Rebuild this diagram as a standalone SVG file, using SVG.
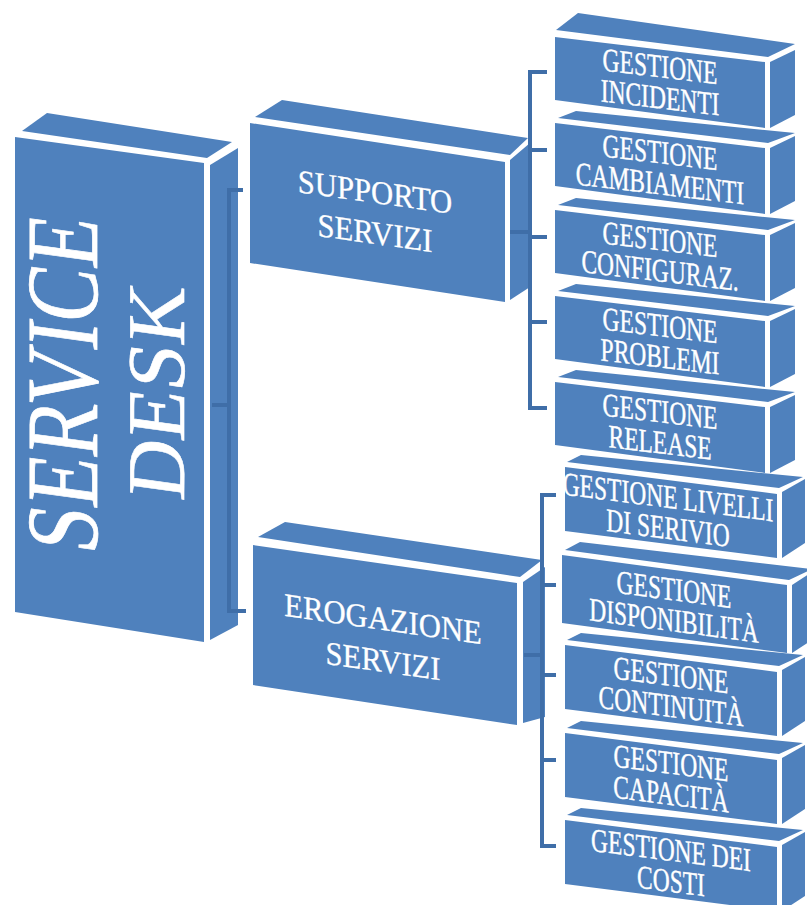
<svg xmlns="http://www.w3.org/2000/svg" width="807" height="905" viewBox="0 0 807 905">
  <style>
    .f { fill: #4f81bd; }
    .c { stroke: #3f6ea8; stroke-width: 4; fill: none; stroke-linecap: butt; stroke-linejoin: miter; }
    .t { fill: #ffffff; stroke: #ffffff; stroke-width: 0.3; font-family: "Liberation Serif", "Times New Roman", serif; text-anchor: middle; }
    .big { font-size: 82px; stroke-width: 0.6; }
    .mid { font-size: 33px; }
    .sm { font-size: 23.5px; }
  </style>
  <rect width="807" height="905" fill="#ffffff"/>

  <!-- root box -->
  <g id="service-desk">
    <polygon class="f" points="22,131 47,113 232,142 207,158"/>
    <polygon class="f" points="15,137 204,163 204,642 15,612"/>
    <polygon class="f" points="210,165 238,148 238,625 210,640"/>
    <text class="t big" transform="translate(97,388) skewY(7.8) rotate(-90) scale(1,1.25)">SERVICE</text>
    <text class="t big" transform="translate(184,395) skewY(7.8) rotate(-90)">DESK</text>
  </g>

  <!-- second level -->
  <g id="supporto-servizi">
    <polygon class="f" points="255,117 282,100 528,138 510,155"/>
    <polygon class="f" points="250,123 505,162 505,302 250,263"/>
    <polygon class="f" points="510,160 530,143 530,287 510,300"/>
    <g class="t mid" transform="translate(375,212.5) skewY(8) scale(0.93,1)">
      <text y="-9.5">SUPPORTO</text>
      <text y="31.5">SERVIZI</text>
    </g>
  </g>

  <g id="erogazione-servizi">
    <polygon class="f" points="258,537 285,522 542,560 520,577"/>
    <polygon class="f" points="253,545 517,583 517,725 253,685"/>
    <polygon class="f" points="523,582 545,567 545,717 523,723"/>
    <g class="t mid" transform="translate(383,640) skewY(8.2) scale(0.93,1)">
      <text y="-10">EROGAZIONE</text>
      <text y="32">SERVIZI</text>
    </g>
  </g>

  <!-- third level, first column -->
  <g id="gestione-incidenti">
    <polygon class="f" points="556,30 578,13 795,44 768,57"/>
    <polygon class="f" points="555,37 765,62 765,128 555,100"/>
    <polygon class="f" points="770,62 795,50 795,115 770,128"/>
    <g class="t sm" transform="translate(660,82) skewY(6.8) scale(1,1.4)">
      <text y="-3.3">GESTIONE</text>
      <text y="18.9">INCIDENTI</text>
    </g>
  </g>

  <g id="gestione-cambiamenti">
    <polygon class="f" points="558,118 576,111 795,133 768,143"/>
    <polygon class="f" points="555,123 765,148 765,214 555,186"/>
    <polygon class="f" points="770,148 795,136 795,201 770,214"/>
    <g class="t sm" transform="translate(660,168) skewY(6.8) scale(1,1.4)">
      <text y="-3.3">GESTIONE</text>
      <text y="18.9">CAMBIAMENTI</text>
    </g>
  </g>

  <g id="gestione-configurazioni">
    <polygon class="f" points="558,205 576,198 795,220 768,230"/>
    <polygon class="f" points="555,210 765,235 765,301 555,273"/>
    <polygon class="f" points="770,235 795,223 795,288 770,301"/>
    <g class="t sm" transform="translate(660,255) skewY(6.8) scale(1,1.4)">
      <text y="-3.3">GESTIONE</text>
      <text y="18.9">CONFIGURAZ.</text>
    </g>
  </g>

  <g id="gestione-problemi">
    <polygon class="f" points="558,291 576,284 795,306 768,316"/>
    <polygon class="f" points="555,296 765,321 765,387 555,359"/>
    <polygon class="f" points="770,321 795,309 795,374 770,387"/>
    <g class="t sm" transform="translate(660,341) skewY(6.8) scale(1,1.4)">
      <text y="-3.3">GESTIONE</text>
      <text y="18.9">PROBLEMI</text>
    </g>
  </g>

  <g id="gestione-release">
    <polygon class="f" points="558,377 576,370 795,392 768,402"/>
    <polygon class="f" points="555,382 765,407 765,473 555,445"/>
    <polygon class="f" points="770,407 795,395 795,460 770,473"/>
    <g class="t sm" transform="translate(660,427) skewY(6.8) scale(1,1.4)">
      <text y="-3.3">GESTIONE</text>
      <text y="18.9">RELEASE</text>
    </g>
  </g>

  <!-- third level, second column -->
  <g id="gestione-livelli">
    <polygon class="f" points="567,462 581,455 803,477 779,488"/>
    <polygon class="f" points="565,467 777,494 777,558 565,531"/>
    <polygon class="f" points="782,492 805,479 805,543 782,558"/>
    <g class="t sm" transform="translate(668,512.5) skewY(7.3) scale(1,1.4)">
      <text y="-3.3">GESTIONE LIVELLI</text>
      <text y="18.9">DI SERIVIO</text>
    </g>
  </g>

  <g id="gestione-disponibilita">
    <polygon class="f" points="565,550 580,542 812,569 789,580"/>
    <polygon class="f" points="562,555 787,585 787,653 562,623"/>
    <polygon class="f" points="792,585 812,572 812,640 792,653"/>
    <g class="t sm" transform="translate(674,605) skewY(7.6) scale(1,1.4)">
      <text y="-3.3">GESTIONE</text>
      <text y="18.9">DISPONIBILITÀ</text>
    </g>
  </g>

  <g id="gestione-continuita">
    <polygon class="f" points="567,640 581,633 803,655 779,666"/>
    <polygon class="f" points="565,645 777,672 777,736 565,709"/>
    <polygon class="f" points="782,670 805,657 805,721 782,736"/>
    <g class="t sm" transform="translate(671,690.5) skewY(7.3) scale(1,1.4)">
      <text y="-3.3">GESTIONE</text>
      <text y="18.9">CONTINUITÀ</text>
    </g>
  </g>

  <g id="gestione-capacita">
    <polygon class="f" points="567,728 581,721 803,743 779,754"/>
    <polygon class="f" points="565,733 777,760 777,824 565,797"/>
    <polygon class="f" points="782,758 805,745 805,809 782,824"/>
    <g class="t sm" transform="translate(671,778.5) skewY(7.3) scale(1,1.4)">
      <text y="-3.3">GESTIONE</text>
      <text y="18.9">CAPACITÀ</text>
    </g>
  </g>

  <g id="gestione-costi">
    <polygon class="f" points="567,815 581,808 803,830 779,841"/>
    <polygon class="f" points="565,820 777,847 777,911 565,884"/>
    <polygon class="f" points="782,845 805,832 805,896 782,911"/>
    <g class="t sm" transform="translate(671,865.5) skewY(7.3) scale(1,1.4)">
      <text y="-3.3">GESTIONE DEI</text>
      <text y="18.9">COSTI</text>
    </g>
  </g>

  <!-- connectors -->
  <g id="connectors">
    <path class="c" d="M243,190 H229 V611 H246 M212,405 H229"/>
    <path class="c" d="M547,72 H530 V408 H547 M530,150 H547 M530,237 H547 M530,322 H547 M510,232 H530"/>
    <path class="c" d="M556,495 H542 V846 H556 M542,585 H556 M542,675 H556 M542,760 H556 M524,655 H542"/>
  </g>
</svg>
